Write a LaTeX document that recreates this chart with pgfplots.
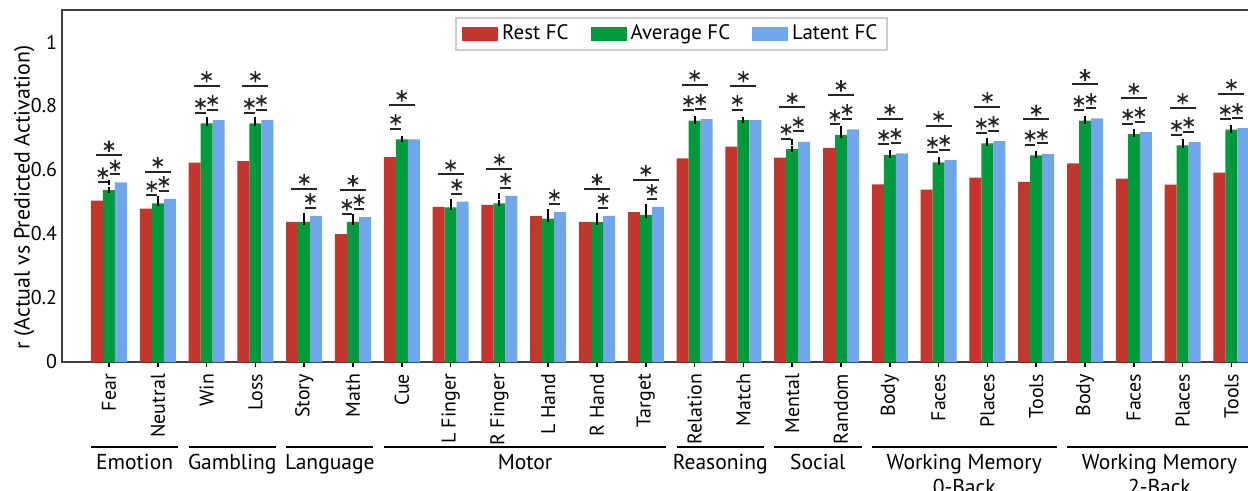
\documentclass[border=0pt]{standalone}
\usepackage{fontspec}
\setmainfont{PT Sans}
\usepackage{pgfplots}
\usepackage{pgfplotstable}
\pgfplotsset{compat=1.18}
\definecolor{cRed}{RGB}{194,54,45}
\definecolor{cGreen}{RGB}{0,154,61}
\definecolor{cBlue}{RGB}{113,166,235}

\pgfplotstableread{
idx rest avg lat
0 0.504 0.537 0.561
1 0.479 0.496 0.510
2 0.623 0.746 0.756
3 0.628 0.746 0.756
4 0.438 0.438 0.457
5 0.400 0.438 0.453
6 0.640 0.696 0.696
7 0.485 0.483 0.501
8 0.491 0.496 0.519
9 0.457 0.448 0.468
10 0.438 0.438 0.457
11 0.468 0.460 0.485
12 0.636 0.754 0.759
13 0.673 0.756 0.756
14 0.639 0.665 0.688
15 0.669 0.710 0.727
16 0.555 0.647 0.652
17 0.539 0.624 0.631
18 0.576 0.683 0.690
19 0.563 0.646 0.650
20 0.621 0.754 0.761
21 0.573 0.712 0.718
22 0.554 0.677 0.687
23 0.592 0.726 0.731
}\data

% significance brackets: centre x, height y, half length ex
\pgfplotstableread{
x y ex
-0.125 0.562 0.11
0.875 0.521 0.11
1.875 0.779 0.11
2.875 0.779 0.11
4.875 0.463 0.11
5.875 0.729 0.11
11.875 0.787 0.11
12.875 0.789 0.11
13.875 0.698 0.11
14.875 0.743 0.11
15.875 0.680 0.11
16.875 0.657 0.11
17.875 0.716 0.11
18.875 0.679 0.11
19.875 0.787 0.11
20.875 0.745 0.11
21.875 0.710 0.11
22.875 0.758 0.11
0.125 0.586 0.11
1.125 0.535 0.11
2.125 0.789 0.11
3.125 0.789 0.11
4.125 0.482 0.11
5.125 0.478 0.11
7.125 0.526 0.11
8.125 0.544 0.11
9.125 0.493 0.11
10.125 0.482 0.11
11.125 0.510 0.11
12.125 0.792 0.11
14.125 0.721 0.11
15.125 0.760 0.11
16.125 0.685 0.11
17.125 0.664 0.11
18.125 0.723 0.11
19.125 0.683 0.11
20.125 0.794 0.11
21.125 0.751 0.11
22.125 0.720 0.11
23.125 0.763 0.11
0 0.646 0.265
1 0.595 0.265
2 0.864 0.265
3 0.864 0.265
4 0.542 0.265
5 0.538 0.265
6 0.804 0.265
7 0.586 0.265
8 0.604 0.265
10 0.542 0.265
11 0.570 0.265
12 0.867 0.265
13 0.864 0.265
14 0.796 0.265
15 0.835 0.265
16 0.760 0.265
17 0.739 0.265
18 0.798 0.265
19 0.758 0.265
20 0.869 0.265
21 0.826 0.265
22 0.795 0.265
23 0.838 0.265
}\sig

% group underlines: centre x, height, half length
\pgfplotstableread{
x y ex
0.525 -0.266 0.895
2.525 -0.266 0.895
4.525 -0.266 0.895
8.525 -0.266 2.895
12.525 -0.266 0.895
14.525 -0.266 0.895
17.525 -0.266 1.895
21.525 -0.266 1.895
}\groups

\begin{document}
\begin{tikzpicture}
\begin{axis}[
  at={(0,0)}, anchor=south west,
  scale only axis, width=599bp, height=176bp,
  xmin=-0.963, xmax=23.586, ymin=0, ymax=1.1,
  clip=false,
  axis line style={line width=1.2bp, black!75},
  tick pos=left, tick align=outside,
  major tick length=2.5bp,
  xtick={0,...,23},
  xticklabels={Fear,Neutral,Win,Loss,Story,Math,Cue,L Finger,R Finger,L Hand,R Hand,Target,Relation,Match,Mental,Random,Body,Faces,Places,Tools,Body,Faces,Places,Tools},
  xticklabel style={rotate=90, anchor=east, font=\fontsize{10}{11}\selectfont},
  xtick style={line width=0.8bp, black},
  ytick={0,0.2,0.4,0.6,0.8,1},
  yticklabel style={font=\fontsize{10}{11}\selectfont, xshift=3.5bp},
  ytick style={draw=none},
  /pgf/number format/assume math mode=true,
  ylabel={r (Actual vs Predicted Activation)},
  ylabel style={at={(axis description cs:-0.0315,0.467)}, anchor=center,
    font=\fontsize{11}{13}\selectfont},
  legend columns=3,
  legend cell align=left,
  legend image code/.code={\fill[#1] (0bp,-3.5bp) rectangle (18bp,3.5bp);},
  legend style={at={(axis description cs:0.509,0.98)}, anchor=north,
    draw=gray!40, line width=0.9bp, font=\fontsize{10.5}{12}\selectfont,
    inner xsep=3bp, inner ysep=1.5bp,
    /tikz/every even column/.append style={column sep=9bp}},
]
\addplot[ybar, bar width=0.246, bar shift=-0.246, fill=cRed, draw=none,
  error bars/.cd, y dir=both, y fixed=0.009, error mark=none,
  error bar style={draw=black, line width=1bp}]
  table[x=idx, y=rest]{\data};
\addlegendentry{Rest FC}
\addplot[ybar, bar width=0.246, bar shift=0, fill=cGreen, draw=none,
  error bars/.cd, y dir=both, y fixed=0.009, error mark=none,
  error bar style={draw=black, line width=1bp}]
  table[x=idx, y=avg]{\data};
\addlegendentry{Average FC}
\addplot[ybar, bar width=0.246, bar shift=0.246, fill=cBlue, draw=none,
  error bars/.cd, y dir=both, y fixed=0.009, error mark=none,
  error bar style={draw=black, line width=1bp}]
  table[x=idx, y=lat]{\data};
\addlegendentry{Latent FC}

% bracket lines
\addplot[draw=none, mark=none, forget plot,
  error bars/.cd, x dir=both, x explicit, error mark=none,
  error bar style={draw=black!85, line width=1bp}]
  table[x=x, y=y, x error=ex]{\sig};
% stars
\addplot[only marks, mark=asterisk, mark size=2.9bp, forget plot,
  mark options={line width=0.8bp, draw=black!85}]
  table[x=x, y expr=\thisrow{y}+0.028]{\sig};
% group underlines
\addplot[draw=none, mark=none, forget plot,
  error bars/.cd, x dir=both, x explicit, error mark=none,
  error bar style={draw=black, line width=1.1bp}]
  table[x=x, y=y, x error=ex]{\groups};

\begin{scope}[every node/.style={anchor=north, align=center, inner sep=0pt, font=\fontsize{10.8}{12.5}\selectfont}]
\node at (axis cs:0.525,-0.287) {Emotion};
\node at (axis cs:2.525,-0.287) {Gambling};
\node at (axis cs:4.525,-0.287) {Language};
\node at (axis cs:8.525,-0.287) {Motor};
\node at (axis cs:12.525,-0.287) {Reasoning};
\node at (axis cs:14.525,-0.287) {Social};
\node at (axis cs:17.525,-0.287) {Working Memory\\0-Back};
\node at (axis cs:21.525,-0.287) {Working Memory\\2-Back};
\end{scope}
\end{axis}
\pgfresetboundingbox
\useasboundingbox (-31bp,-64.5bp) rectangle (593bp,181bp);
\end{tikzpicture}
\end{document}
